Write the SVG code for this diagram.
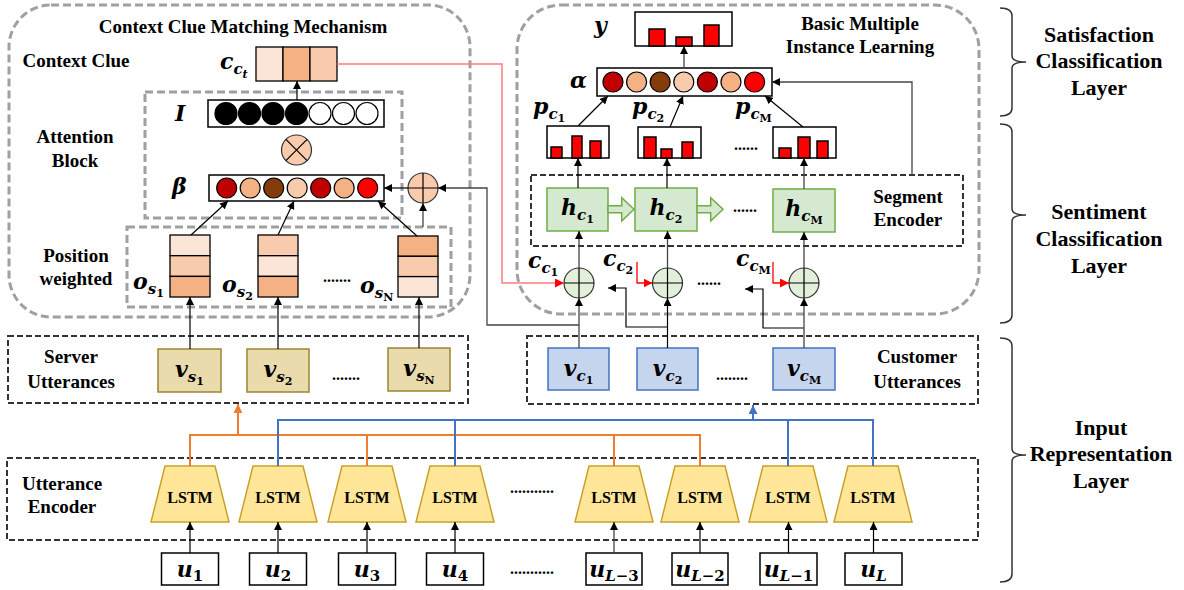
<svg xmlns="http://www.w3.org/2000/svg" width="1184" height="590" viewBox="0 0 1184 590">
<defs>
<style>
.lbl{font-family:"Liberation Serif",serif;font-weight:bold;font-size:19px;text-anchor:middle;fill:#000}
.big{font-family:"Liberation Serif",serif;font-weight:bold;font-size:22px;text-anchor:middle;fill:#000}
.m{font-family:"DejaVu Serif",serif;font-weight:bold;font-style:italic;font-size:22px;fill:#000}
.mc{text-anchor:middle}
.s{font-size:15px}
.ss{font-size:11px}
.up{font-style:normal}
.dots{font-family:"Liberation Serif",serif;font-weight:bold;font-size:16px;fill:#000}
.lstm{font-family:"Liberation Serif",serif;font-weight:bold;font-size:16px;text-anchor:middle;fill:#000}
.gd{fill:none;stroke:#A0A0A0;stroke-width:3;stroke-dasharray:8 4}
.kd{fill:none;stroke:#333;stroke-width:2;stroke-dasharray:6 3}
.bx{fill:#fff;stroke:#000;stroke-width:1.5}
.ci{stroke:#000;stroke-width:1.2}
.bar{fill:#FF0000;stroke:#000;stroke-width:1.5}
.c1{fill:#FBE5D6}.c2{fill:#F8CBAD}.c3{fill:#F4B183}
.cell{stroke:#000;stroke-width:1.3}
.vs{fill:#E9DBAC;stroke:#9C8533;stroke-width:1.5}
.vc{fill:#C5D5EE;stroke:#4472C4;stroke-width:1.5}
.hb{fill:#D5E8D0;stroke:#70AD47;stroke-width:1.5}
.ls{fill:#FFE699;stroke:#C9A227;stroke-width:1.5}
.op{fill:#E2F0D9;stroke:#333;stroke-width:1.2}
.oo{fill:#F8CBAD;stroke:#333;stroke-width:1.2}
.k{fill:none;stroke:#000;stroke-width:1.2}
.g{fill:none;stroke:#444;stroke-width:1.3}
.brace{fill:none;stroke:#333;stroke-width:1.5}
</style>
<marker id="ah" viewBox="0 0 10 10" refX="10" refY="5" markerWidth="8" markerHeight="8" orient="auto" markerUnits="userSpaceOnUse"><path d="M0,0 L10,5 L0,10 z" fill="#000"/></marker>
<marker id="ahr" viewBox="0 0 10 10" refX="10" refY="5" markerWidth="9" markerHeight="9" orient="auto" markerUnits="userSpaceOnUse"><path d="M0,0 L10,5 L0,10 z" fill="#FF0000"/></marker>
<marker id="aho" viewBox="0 0 10 10" refX="10" refY="5" markerWidth="9" markerHeight="9" orient="auto" markerUnits="userSpaceOnUse"><path d="M0,0 L10,5 L0,10 z" fill="#ED7D31"/></marker>
<marker id="ahb" viewBox="0 0 10 10" refX="10" refY="5" markerWidth="9" markerHeight="9" orient="auto" markerUnits="userSpaceOnUse"><path d="M0,0 L10,5 L0,10 z" fill="#4472C4"/></marker>
</defs>
<rect width="1184" height="590" fill="#fff"/>

<!-- containers -->
<g id="context-clue-matching">
<rect class="gd" x="9" y="5" width="461" height="312" rx="42"/>
<text class="lbl" x="243" y="33">Context Clue Matching Mechanism</text>
<text class="lbl" x="76" y="67">Context Clue</text>
</g>
<g id="attention-block">
<rect class="gd" x="145" y="92" width="257" height="126"/>
<text class="lbl" x="75" y="143">Attention</text>
<text class="lbl" x="75" y="167">Block</text>
</g>
<g id="position-weighted">
<rect class="gd" x="127" y="227" width="324" height="80"/>
<text class="lbl" x="76" y="262">Position</text>
<text class="lbl" x="76" y="285">weighted</text>
</g>
<g id="basic-mil">
<rect class="gd" x="517" y="5" width="462" height="309" rx="44"/>
<text class="lbl" x="860" y="30">Basic Multiple</text>
<text class="lbl" x="860" y="53">Instance Learning</text>
</g>
<g id="segment-encoder">
<rect class="kd" x="531" y="175" width="432" height="71"/>
<text class="lbl" x="908" y="203">Segment</text>
<text class="lbl" x="908" y="226">Encoder</text>
</g>
<g id="server-utterances">
<rect class="kd" x="8" y="336" width="460" height="67"/>
<text class="lbl" x="71" y="363">Server</text>
<text class="lbl" x="71" y="388">Utterances</text>
</g>
<g id="customer-utterances">
<rect class="kd" x="527" y="336" width="451" height="68"/>
<text class="lbl" x="917" y="363">Customer</text>
<text class="lbl" x="917" y="388">Utterances</text>
</g>
<g id="utterance-encoder">
<rect class="kd" x="7" y="458" width="971" height="82"/>
<text class="lbl" x="62" y="490">Utterance</text>
<text class="lbl" x="62" y="513">Encoder</text>
</g>

<!-- context clue -->
<g id="cct">
<rect class="cell c1" x="256" y="47" width="27" height="34"/>
<rect class="cell c3" x="283" y="47" width="27" height="34"/>
<rect class="cell c2" x="310" y="47" width="27" height="34"/>
<text class="m" x="220" y="69">c<tspan class="s" dy="5">c</tspan><tspan class="ss" dy="4">t</tspan></text>
</g>
<g id="I">
<rect class="bx" x="208" y="100" width="176" height="27"/>
<circle class="ci" cx="226" cy="113.5" r="11" fill="#000"/>
<circle class="ci" cx="249.5" cy="113.5" r="11" fill="#000"/>
<circle class="ci" cx="273" cy="113.5" r="11" fill="#000"/>
<circle class="ci" cx="296.5" cy="113.5" r="11" fill="#000"/>
<circle class="ci" cx="320" cy="113.5" r="11" fill="#fff"/>
<circle class="ci" cx="343.5" cy="113.5" r="11" fill="#fff"/>
<circle class="ci" cx="367" cy="113.5" r="11" fill="#fff"/>
<text class="m" x="175" y="121">I</text>
</g>
<g id="otimes">
<circle class="oo" cx="296.5" cy="150" r="15"/>
<path class="k" d="M285.9,139.4 L307.1,160.6 M307.1,139.4 L285.9,160.6"/>
</g>
<g id="beta">
<rect class="bx" x="209" y="175" width="175" height="26"/>
<circle class="ci" cx="226.7" cy="188" r="10" fill="#C00000"/>
<circle class="ci" cx="250.2" cy="188" r="10" fill="#F4B183"/>
<circle class="ci" cx="273.7" cy="188" r="10" fill="#843C0C"/>
<circle class="ci" cx="297.2" cy="188" r="10" fill="#F8CBAD"/>
<circle class="ci" cx="320.7" cy="188" r="10" fill="#C00000"/>
<circle class="ci" cx="344.2" cy="188" r="10" fill="#F4B183"/>
<circle class="ci" cx="367.7" cy="188" r="10" fill="#FF0000"/>
<text class="m" x="172" y="194">β</text>
</g>
<g id="oplus-left">
<circle class="oo" cx="423" cy="188" r="15"/>
<path class="k" d="M408,188 H438 M423,173 V203"/>
</g>
<g id="os1">
<rect class="cell c1" x="170" y="235" width="40" height="20.7"/>
<rect class="cell c2" x="170" y="255.7" width="40" height="20.7"/>
<rect class="cell c3" x="170" y="276.4" width="40" height="20.6"/>
<text class="m" x="133" y="289">o<tspan class="s" dy="5">s</tspan><tspan class="ss up" dy="3">1</tspan></text>
</g>
<g id="os2">
<rect class="cell c2" x="258" y="235" width="40" height="20.7"/>
<rect class="cell c1" x="258" y="255.7" width="40" height="20.7"/>
<rect class="cell c3" x="258" y="276.4" width="40" height="20.6"/>
<text class="m" x="222" y="292">o<tspan class="s" dy="5">s</tspan><tspan class="ss up" dy="3">2</tspan></text>
</g>
<text class="dots" x="323" y="282">.......</text>
<g id="osN">
<rect class="cell c3" x="398" y="236" width="40" height="20.3"/>
<rect class="cell c2" x="398" y="256.3" width="40" height="20.3"/>
<rect class="cell c1" x="398" y="276.6" width="40" height="20.4"/>
<text class="m" x="360" y="293">o<tspan class="s" dy="5">s</tspan><tspan class="ss up" dy="3">N</tspan></text>
</g>

<!-- server utterances -->
<g id="vs1"><rect class="vs" x="158" y="349" width="63" height="43"/><text class="m mc" x="189.5" y="377">v<tspan class="s" dy="5">s</tspan><tspan class="ss up" dy="3">1</tspan></text></g>
<g id="vs2"><rect class="vs" x="247" y="349" width="62" height="43"/><text class="m mc" x="278" y="377">v<tspan class="s" dy="5">s</tspan><tspan class="ss up" dy="3">2</tspan></text></g>
<text class="dots" x="332" y="380">.......</text>
<g id="vsN"><rect class="vs" x="388" y="348" width="62" height="43"/><text class="m mc" x="419" y="376">v<tspan class="s" dy="5">s</tspan><tspan class="ss up" dy="3">N</tspan></text></g>

<!-- customer utterances -->
<g id="vc1"><rect class="vc" x="548" y="348" width="61" height="42"/><text class="m mc" x="578.5" y="376">v<tspan class="s" dy="5">c</tspan><tspan class="ss up" dy="3">1</tspan></text></g>
<g id="vc2"><rect class="vc" x="637" y="348" width="61" height="42"/><text class="m mc" x="667.5" y="376">v<tspan class="s" dy="5">c</tspan><tspan class="ss up" dy="3">2</tspan></text></g>
<text class="dots" x="716" y="380">........</text>
<g id="vcM"><rect class="vc" x="773" y="348" width="62" height="42"/><text class="m mc" x="804" y="376">v<tspan class="s" dy="5">c</tspan><tspan class="ss up" dy="3">M</tspan></text></g>

<!-- segment encoder -->
<g id="hc1"><rect class="hb" x="547" y="188" width="61" height="43"/>
<path class="hb" d="M608,205.7 H621.7 V197.7 L634,209.3 L621.7,221 V212.7 H608 Z"/>
<text class="m mc" x="577.5" y="215">h<tspan class="s" dy="5">c</tspan><tspan class="ss up" dy="3">1</tspan></text></g>
<g id="hc2"><rect class="hb" x="635" y="188" width="62" height="43"/>
<path class="hb" d="M697,205.7 H710.7 V197.7 L723,209.3 L710.7,221 V212.7 H697 Z"/>
<text class="m mc" x="666" y="215">h<tspan class="s" dy="5">c</tspan><tspan class="ss up" dy="3">2</tspan></text></g>
<text class="dots" x="733" y="212">......</text>
<g id="hcM"><rect class="hb" x="773" y="189" width="62" height="43"/>
<text class="m mc" x="804" y="216">h<tspan class="s" dy="5">c</tspan><tspan class="ss up" dy="3">M</tspan></text></g>

<!-- oplus right -->
<g id="oplus-c1"><circle class="op" cx="579" cy="283" r="15"/><path class="k" d="M564,283 H594 M579,268 V298"/>
<text class="m" x="528" y="268">c<tspan class="s" dy="5">c</tspan><tspan class="ss up" dy="3">1</tspan></text></g>
<g id="oplus-c2"><circle class="op" cx="667.5" cy="283" r="15"/><path class="k" d="M652.5,283 H682.5 M667.5,268 V298"/>
<text class="m" x="603" y="266">c<tspan class="s" dy="5">c</tspan><tspan class="ss up" dy="3">2</tspan></text></g>
<text class="dots" x="697" y="285">......</text>
<g id="oplus-cM"><circle class="op" cx="804" cy="283" r="15"/><path class="k" d="M789,283 H819 M804,268 V298"/>
<text class="m" x="736" y="266">c<tspan class="s" dy="5">c</tspan><tspan class="ss up" dy="3">M</tspan></text></g>

<!-- p boxes -->
<g id="pc1"><rect class="bx" x="547" y="126" width="62" height="32"/>
<rect class="bar" x="551" y="147" width="11" height="11"/><rect class="bar" x="572" y="136" width="10" height="22"/><rect class="bar" x="590" y="141" width="11" height="17"/>
<text class="m" x="533" y="114">p<tspan class="s" dy="5">c</tspan><tspan class="ss up" dy="3">1</tspan></text></g>
<g id="pc2"><rect class="bx" x="638" y="127" width="63" height="31"/>
<rect class="bar" x="644" y="137" width="12" height="21"/><rect class="bar" x="661" y="149" width="11" height="9"/><rect class="bar" x="682" y="142" width="11" height="16"/>
<text class="m" x="632" y="114">p<tspan class="s" dy="5">c</tspan><tspan class="ss up" dy="3">2</tspan></text></g>
<text class="dots" x="734" y="150">......</text>
<g id="pcM"><rect class="bx" x="773" y="127" width="63" height="31"/>
<rect class="bar" x="779" y="148" width="12" height="10"/><rect class="bar" x="798" y="137" width="12" height="21"/><rect class="bar" x="817" y="141" width="11" height="17"/>
<text class="m" x="735" y="114">p<tspan class="s" dy="5">c</tspan><tspan class="ss up" dy="3">M</tspan></text></g>

<!-- alpha and y -->
<g id="alpha"><rect class="bx" x="597" y="68" width="175" height="28"/>
<circle class="ci" cx="613" cy="82" r="10" fill="#C00000"/>
<circle class="ci" cx="636.6" cy="82" r="10" fill="#F4B183"/>
<circle class="ci" cx="660.2" cy="82" r="10" fill="#843C0C"/>
<circle class="ci" cx="683.8" cy="82" r="10" fill="#F8CBAD"/>
<circle class="ci" cx="707.4" cy="82" r="10" fill="#C00000"/>
<circle class="ci" cx="731" cy="82" r="10" fill="#F4B183"/>
<circle class="ci" cx="754.6" cy="82" r="10" fill="#FF0000"/>
<text class="m" x="570" y="88">α</text></g>
<g id="y"><rect class="bx" x="635" y="12" width="97" height="34"/>
<rect class="bar" x="649" y="29" width="16" height="17"/><rect class="bar" x="676" y="37" width="16" height="9"/><rect class="bar" x="704" y="25" width="15" height="21"/>
<text class="m" x="594" y="33">y</text></g>

<!-- LSTMs and inputs -->
<g id="lstm1"><path class="ls" d="M165,466 H215 L229,522 H151 Z"/><text class="lstm" x="190" y="503">LSTM</text></g>
<g id="lstm2"><path class="ls" d="M253,466 H303 L317,522 H239 Z"/><text class="lstm" x="278" y="503">LSTM</text></g>
<g id="lstm3"><path class="ls" d="M342,466 H392 L406,522 H328 Z"/><text class="lstm" x="367" y="503">LSTM</text></g>
<g id="lstm4"><path class="ls" d="M430,466 H480 L494,522 H416 Z"/><text class="lstm" x="455" y="503">LSTM</text></g>
<text class="dots" x="510" y="493">...........</text>
<g id="lstm5"><path class="ls" d="M589,466 H639 L653,522 H575 Z"/><text class="lstm" x="614" y="503">LSTM</text></g>
<g id="lstm6"><path class="ls" d="M675,466 H725 L739,522 H661 Z"/><text class="lstm" x="700" y="503">LSTM</text></g>
<g id="lstm7"><path class="ls" d="M763,466 H813 L827,522 H749 Z"/><text class="lstm" x="788" y="503">LSTM</text></g>
<g id="lstm8"><path class="ls" d="M848,466 H898 L912,522 H834 Z"/><text class="lstm" x="873" y="503">LSTM</text></g>

<g id="u1"><rect class="bx" x="161.5" y="553" width="57" height="32"/><text class="m mc" x="190" y="577">u<tspan class="s up" dy="4">1</tspan></text></g>
<g id="u2"><rect class="bx" x="249.5" y="553" width="57" height="32"/><text class="m mc" x="278" y="577">u<tspan class="s up" dy="4">2</tspan></text></g>
<g id="u3"><rect class="bx" x="338.5" y="553" width="57" height="32"/><text class="m mc" x="367" y="577">u<tspan class="s up" dy="4">3</tspan></text></g>
<g id="u4"><rect class="bx" x="426.5" y="553" width="57" height="32"/><text class="m mc" x="455" y="577">u<tspan class="s up" dy="4">4</tspan></text></g>
<text class="dots" x="510" y="574">...........</text>
<g id="uL3"><rect class="bx" x="586" y="553" width="56" height="32"/><text class="m mc" x="614" y="577">u<tspan class="s" dy="4">L<tspan class="up">−3</tspan></tspan></text></g>
<g id="uL2"><rect class="bx" x="672" y="553" width="56" height="32"/><text class="m mc" x="700" y="577">u<tspan class="s" dy="4">L<tspan class="up">−2</tspan></tspan></text></g>
<g id="uL1"><rect class="bx" x="760" y="553" width="57" height="32"/><text class="m mc" x="788.5" y="577">u<tspan class="s" dy="4">L<tspan class="up">−1</tspan></tspan></text></g>
<g id="uL"><rect class="bx" x="845" y="553" width="57" height="32"/><text class="m mc" x="873.5" y="577">u<tspan class="s" dy="4">L</tspan></text></g>

<!-- layer braces -->
<g id="layer-satisfaction">
<path class="brace" d="M1000,8 Q1012,8 1012,16 V56 Q1012,62 1026,62 Q1012,62 1012,68 V108 Q1012,116 1000,116"/>
<text class="big" x="1099" y="42">Satisfaction</text><text class="big" x="1099" y="68">Classification</text><text class="big" x="1099" y="95">Layer</text>
</g>
<g id="layer-sentiment">
<path class="brace" d="M1000,124 Q1012,124 1012,132 V209 Q1012,215 1026,215 Q1012,215 1012,221 V315 Q1012,323 1000,323"/>
<text class="big" x="1099" y="219">Sentiment</text><text class="big" x="1099" y="246">Classification</text><text class="big" x="1099" y="273">Layer</text>
</g>
<g id="layer-input">
<path class="brace" d="M1000,338 Q1012,338 1012,346 V449 Q1012,455 1026,455 Q1012,455 1012,461 V574 Q1012,582 1000,582"/>
<text class="big" x="1101" y="435">Input</text><text class="big" x="1101" y="461">Representation</text><text class="big" x="1101" y="488">Layer</text>
</g>

<!-- connectors -->
<g id="connectors">
<line class="k" x1="297" y1="100" x2="297" y2="81" marker-end="url(#ah)"/>
<line class="k" x1="408" y1="188" x2="384" y2="188" marker-end="url(#ah)"/>
<line class="g" x1="423" y1="227" x2="423" y2="203" marker-end="url(#ah)"/>
<line class="k" x1="191" y1="235" x2="228" y2="201" marker-end="url(#ah)"/>
<line class="k" x1="278" y1="235" x2="294" y2="201" marker-end="url(#ah)"/>
<line class="k" x1="417" y1="236" x2="378" y2="201" marker-end="url(#ah)"/>
<line class="k" x1="190" y1="349" x2="190" y2="297" marker-end="url(#ah)"/>
<line class="k" x1="278" y1="349" x2="278" y2="297" marker-end="url(#ah)"/>
<line class="k" x1="419" y1="348" x2="419" y2="297" marker-end="url(#ah)"/>

<path class="g" d="M579,325 H487 V188 H438" marker-end="url(#ah)"/>
<path class="k" d="M667.5,327 H626 V288 H608" marker-end="url(#ah)"/>
<path class="k" d="M804,328 H763 V289 H745" marker-end="url(#ah)"/>

<path fill="none" stroke="#FF7C80" stroke-width="1.5" d="M337,64 H502 V283 H564" marker-end="url(#ahr)"/>
<path fill="none" stroke="#FF0000" stroke-width="1.3" d="M637,262 V283 H652.5" marker-end="url(#ahr)"/>
<path fill="none" stroke="#FF0000" stroke-width="1.3" d="M773,262 V283 H789" marker-end="url(#ahr)"/>

<line class="g" x1="579" y1="348" x2="579" y2="298" marker-end="url(#ah)"/>
<line class="k" x1="667.5" y1="348" x2="667.5" y2="298" marker-end="url(#ah)"/>
<line class="g" x1="804" y1="348" x2="804" y2="298" marker-end="url(#ah)"/>
<line class="g" x1="579" y1="268" x2="579" y2="231" marker-end="url(#ah)"/>
<line class="g" x1="667.5" y1="268" x2="667.5" y2="231" marker-end="url(#ah)"/>
<line class="g" x1="804" y1="268" x2="804" y2="232" marker-end="url(#ah)"/>
<line class="k" x1="578" y1="188" x2="578" y2="158" marker-end="url(#ah)"/>
<line class="k" x1="667" y1="188" x2="667" y2="158" marker-end="url(#ah)"/>
<line class="g" x1="804" y1="189" x2="804" y2="158" marker-end="url(#ah)"/>
<line class="k" x1="578" y1="126" x2="608" y2="96" marker-end="url(#ah)"/>
<line class="k" x1="670" y1="127" x2="683" y2="96" marker-end="url(#ah)"/>
<line class="k" x1="803" y1="127" x2="765" y2="96" marker-end="url(#ah)"/>
<line class="g" x1="684" y1="68" x2="684" y2="46" marker-end="url(#ah)"/>
<path class="g" d="M912,175 V82 H772" marker-end="url(#ah)"/>

<path fill="none" stroke="#ED7D31" stroke-width="2" d="M190,466 V435 H700 V466 M367,466 V435 M614,466 V435"/>
<line stroke="#ED7D31" stroke-width="2" x1="238" y1="435" x2="238" y2="404" marker-end="url(#aho)"/>
<path fill="none" stroke="#4472C4" stroke-width="2" d="M278,466 V420 H873 V466 M455,466 V420 M788,466 V420"/>
<line stroke="#4472C4" stroke-width="2" x1="753" y1="420" x2="753" y2="405" marker-end="url(#ahb)"/>

<line class="k" x1="190" y1="553" x2="190" y2="522" marker-end="url(#ah)"/>
<line class="k" x1="278" y1="553" x2="278" y2="522" marker-end="url(#ah)"/>
<line class="k" x1="367" y1="553" x2="367" y2="522" marker-end="url(#ah)"/>
<line class="k" x1="455" y1="553" x2="455" y2="522" marker-end="url(#ah)"/>
<line class="g" x1="614" y1="553" x2="614" y2="522" marker-end="url(#ah)"/>
<line class="k" x1="700" y1="553" x2="700" y2="522" marker-end="url(#ah)"/>
<line class="k" x1="788.5" y1="553" x2="788.5" y2="522" marker-end="url(#ah)"/>
<line class="k" x1="873.5" y1="553" x2="873.5" y2="522" marker-end="url(#ah)"/>
</g>
</svg>
